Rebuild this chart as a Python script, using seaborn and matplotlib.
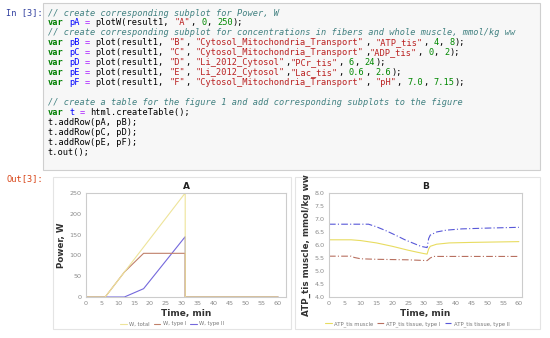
import re
import pandas as pd
import seaborn as sns
import matplotlib.pyplot as plt
from matplotlib.patches import Rectangle

# notebook input cell
code_lines = [
    "// create corresponding subplot for Power, W",
    'var pA = plotW(result1, "A", 0, 250);',
    "// create corresponding subplot for concentrations in fibers and whole muscle, mmol/kg ww",
    'var pB = plot(result1, "B", "Cytosol_Mitochondria_Transport", "ATP_tis", 4, 8);',
    'var pC = plot(result1, "C", "Cytosol_Mitochondria_Transport","ADP_tis", 0, 2);',
    'var pD = plot(result1, "D", "Li_2012_Cytosol","PCr_tis", 6, 24);',
    'var pE = plot(result1, "E", "Li_2012_Cytosol","Lac_tis", 0.6, 2.6);',
    'var pF = plot(result1, "F", "Cytosol_Mitochondria_Transport", "pH", 7.0, 7.15);',
    "",
    "// create a table for the figure 1 and add corresponding subplots to the figure",
    "var t = html.createTable();",
    "t.addRow(pA, pB);",
    "t.addRow(pC, pD);",
    "t.addRow(pE, pF);",
    "t.out();",
]

# panel A: power
time_a = [0, 6, 12, 18, 31, 31, 60]
w_total = [0, 0, 60, 120, 250, 0, 0]
w_type1 = [0, 0, 60, 105, 105, 0, 0]
w_type2 = [0, 0, 0, 20, 145, 0, 0]
labels_a = ["W, total", "W, type I", "W, type II"]

# panel B: ATP
time_muscle = [0, 7, 10, 15, 20, 25, 28, 30, 31, 31.5, 32, 34, 38, 45, 55, 60]
atp_muscle = [6.2, 6.2, 6.17, 6.08, 5.95, 5.8, 5.72, 5.67, 5.65, 5.85, 5.95, 6.03, 6.08, 6.1, 6.12, 6.13]
time_t1 = [0, 7, 8, 10, 15, 25, 31, 32, 33, 60]
atp_type1 = [5.57, 5.57, 5.52, 5.47, 5.45, 5.43, 5.4, 5.5, 5.56, 5.56]
time_t2 = [0, 12.5, 15, 18, 21, 24, 27, 29, 31, 31.5, 32, 34, 37, 42, 50, 60]
atp_type2 = [6.8, 6.8, 6.7, 6.55, 6.38, 6.2, 6.05, 5.95, 5.9, 6.25, 6.38, 6.5, 6.57, 6.62, 6.65, 6.68]
labels_b = ["ATP_tis muscle", "ATP_tis tissue, type I", "ATP_tis tissue, type II"]

W, H = 550, 338
sns.set_style("white")
plt.rcParams["font.family"] = ["DejaVu Sans"]
fig = plt.figure(figsize=(5.5, 3.38), dpi=100)


def fx(x):
    return x / W


def fy(y):
    return 1 - y / H


# input cell box
fig.add_artist(Rectangle((fx(43), fy(170)), (540 - 43) / W, (170 - 3) / H,
                         transform=fig.transFigure, facecolor="#f7f7f7",
                         edgecolor="#cfcfcf", lw=0.8, zorder=-5))
fig.text(fx(6), fy(13), "In [3]:", family="DejaVu Sans Mono", fontsize=6.2,
         color="#303F9F", va="center")
fig.text(fx(6), fy(179), "Out[3]:", family="DejaVu Sans Mono", fontsize=6.2,
         color="#D84315", va="center")

# measure the real monospace advance so the coloured runs tile without overlap
probe = fig.text(0, 0, '"' + "M" * 38 + '"', family="DejaVu Sans Mono", fontsize=6.2)
fig.canvas.draw()
cw = max(5.2, probe.get_window_extent().width / 40 + 0.03)
probe.remove()

# simple syntax colouring of the code; runs of the same style go out as one text
tok_re = re.compile(r'(//.*)|("[^"]*")|(\bvar\b)|(\b\d+(?:\.\d+)?\b)|(=)|(\w+|[^\w\s"]+|\s+)')
x0, y0, dy = 48, 13, 9.93
for i, line in enumerate(code_lines):
    after_var = False
    runs = []
    for m in tok_re.finditer(line):
        tok = m.group(0)
        style = ("#000000", "normal", "normal")
        if m.group(1):
            style = ("#408080", "italic", "normal")
        elif m.group(2):
            style = ("#BA2121", "normal", "normal")
        elif m.group(3):
            style = ("#008000", "normal", "bold")
            after_var = True
        elif m.group(4):
            style = ("#008800", "normal", "normal")
        elif m.group(5):
            style = ("#AA22FF", "normal", "normal")
        elif tok.isspace():
            style = None
        elif after_var:
            style = ("#0000FF", "normal", "normal")
            after_var = False
        if style is None:
            if runs:
                runs[-1][1] += tok
            continue
        if runs and runs[-1][2] == style:
            runs[-1][1] += tok
        else:
            runs.append([m.start(), tok, style])
    for start, text, (c, st, wt) in runs:
        fig.text(fx(x0 + start * cw), fy(y0 + i * dy), text.rstrip(),
                 family="DejaVu Sans Mono", fontsize=6.2, va="center",
                 color=c, fontstyle=st, fontweight=wt)

# output panels
for left, right in [(53, 291), (295, 540)]:
    fig.add_artist(Rectangle((fx(left), fy(329)), (right - left) / W, (329 - 177) / H,
                             transform=fig.transFigure, facecolor="white",
                             edgecolor="#e4e4e4", lw=0.8, zorder=-5))

ax_a = fig.add_axes([fx(86), fy(297), 200 / W, 104 / H])
ax_b = fig.add_axes([fx(329), fy(297), 193 / W, 104 / H])

col_a = ["#EEE49A", "#C0806A", "#7468DC"]
# draw type II and type I first so the total drop sits on top
sns.lineplot(x=time_a, y=w_type2, ax=ax_a, color=col_a[2], label=labels_a[2],
             estimator=None, sort=False, lw=0.8)
sns.lineplot(x=time_a, y=w_type1, ax=ax_a, color=col_a[1], label=labels_a[1],
             estimator=None, sort=False, lw=0.8)
sns.lineplot(x=time_a, y=w_total, ax=ax_a, color=col_a[0], label=labels_a[0],
             estimator=None, sort=False, lw=0.8)
ax_a.set_xlim(0, 62.5)
ax_a.set_ylim(0, 250)
ax_a.set_yticks(range(0, 251, 50))
ax_a.set_title("A", fontsize=6.5, fontweight="bold", pad=3, color="#222222")
ax_a.set_ylabel("Power, W", fontsize=6.3, fontweight="bold", color="#333333", labelpad=3)

col_b = ["#E8DC60", "#B87060", "#5858D8"]
sns.lineplot(x=time_muscle, y=atp_muscle, ax=ax_b, color=col_b[0], label=labels_b[0],
             estimator=None, sort=False, lw=0.8)
sns.lineplot(x=time_t1, y=atp_type1, ax=ax_b, color=col_b[1], label=labels_b[1],
             estimator=None, sort=False, lw=0.8, dashes=(6, 2, 1, 2))
sns.lineplot(x=time_t2, y=atp_type2, ax=ax_b, color=col_b[2], label=labels_b[2],
             estimator=None, sort=False, lw=0.8, dashes=(6, 2, 1, 2))
ax_b.set_xlim(0, 61)
ax_b.set_ylim(4, 8)
ax_b.set_yticks([4 + 0.5 * k for k in range(9)])
ax_b.set_yticklabels([f"{4 + 0.5 * k:.1f}" for k in range(9)])
ax_b.set_title("B", fontsize=6.5, fontweight="bold", pad=3, color="#222222")
ax_b.set_ylabel("ATP_tis muscle, mmol/kg ww", fontsize=6.3, fontweight="bold",
                color="#333333", labelpad=3)

for ax, cx in [(ax_a, 172), (ax_b, 417)]:
    ax.set_xticks(range(0, 61, 5))
    ax.set_xlabel("Time, min", fontsize=6.5, fontweight="bold", color="#333333", labelpad=2)
    ax.tick_params(labelsize=4.6, colors="#8a8a8a", length=1.5, pad=1.5)
    for s in ax.spines.values():
        s.set_color("#cccccc")
        s.set_linewidth(0.8)
    h, l = ax.get_legend_handles_labels()
    order = sorted(range(len(l)), key=lambda k: (labels_a + labels_b).index(l[k]))
    ax.get_legend().remove()
    fig.legend([h[k] for k in order], [l[k] for k in order], loc="center",
               bbox_to_anchor=(fx(cx), fy(324)), ncol=3, frameon=False,
               fontsize=3.8, handlelength=1.3, handletextpad=0.4,
               columnspacing=0.8, labelcolor="#777777")

fig.savefig("out.png", dpi=100)
